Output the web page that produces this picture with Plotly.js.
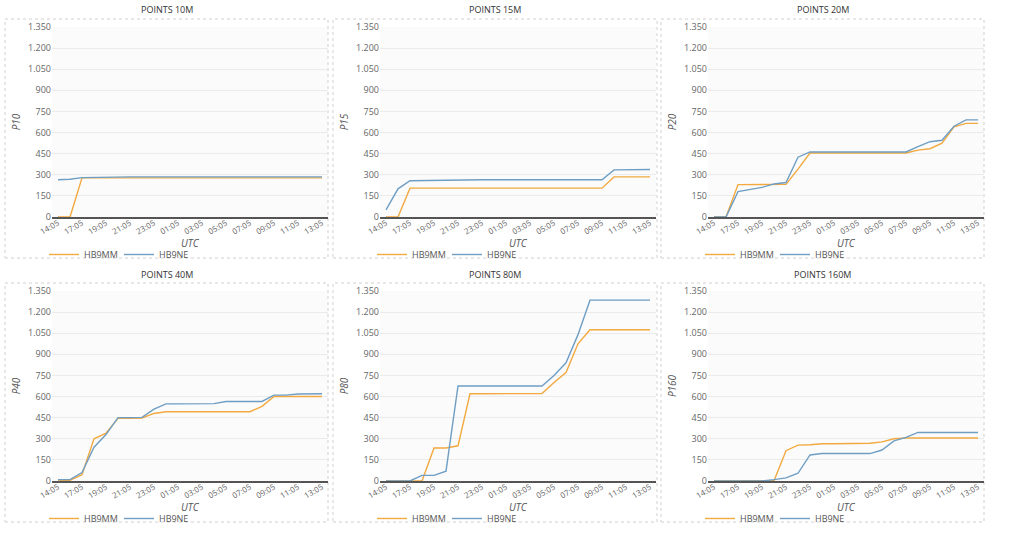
<!DOCTYPE html>
<html>
<head>
<meta charset="utf-8">
<script src="https://cdn.plot.ly/plotly-3.0.1.min.js"></script>
<style>html,body{margin:0;padding:0;background:#fff;}#chart{width:1024px;height:540px;}</style>
</head>
<body>
<div id="chart"></div>
<script>
// ---- data ----
const categories = ['14:05','15:05','17:05','18:05','19:05','20:05','21:05','22:05','23:05','00:05','01:05','02:05','03:05','04:05','05:05','06:05','07:05','08:05','09:05','10:05','11:05','12:05','13:05'];
const tickLabels = ['14:05','17:05','19:05','21:05','23:05','01:05','03:05','05:05','07:05','09:05','11:05','13:05'];
const seriesNames = ['HB9MM','HB9NE'];
const panelTitles = ['POINTS 10M','POINTS 15M','POINTS 20M','POINTS 40M','POINTS 80M','POINTS 160M'];
const yTitles = ['P10','P15','P20','P40','P80','P160'];
const xTitle = 'UTC';
const yTicks = [0,150,300,450,600,750,900,1050,1200,1350];

const mm10 = [0,0,278,278,278,278,278,278,278,278,278,278,278,278,278,278,278,278,278,278,278,278,278];
const ne10 = [265,268,280,282,285,285,285,285,285,285,285,285,285,285,285,285,285,285,285,285,285,285,285];
const mm15 = [0,0,205,205,205,205,205,205,205,205,205,205,205,205,205,205,205,205,205,285,285,285,285];
const ne15 = [50,200,258,260,262,262,263,263,265,265,265,265,265,265,265,265,265,265,265,335,336,338,338];
const mm20 = [0,0,230,230,230,230,232,340,455,455,455,455,455,455,455,455,455,475,485,525,640,665,665];
const ne20 = [0,0,180,195,210,235,245,425,462,462,462,462,462,462,462,462,462,500,535,545,645,690,690];
const mm40 = [0,5,45,300,340,445,445,448,480,492,492,492,492,492,492,492,492,530,600,600,600,600,600];
const ne40 = [10,10,60,240,330,450,450,452,510,548,548,548,548,550,565,565,565,565,610,610,618,620,620];
const mm80 = [0,0,0,0,235,235,250,620,620,620,620,620,620,622,700,770,975,1075,1075,1075,1075,1075,1075];
const ne80 = [0,0,0,40,40,70,675,675,675,675,675,675,675,675,750,840,1040,1285,1285,1285,1285,1285,1285];
const mm160 = [0,0,0,0,0,2,215,255,258,265,265,265,265,268,278,300,305,305,305,305,305,305,305];
const ne160 = [0,0,0,0,0,10,22,55,185,195,195,195,195,195,220,285,310,345,345,345,345,345,345];

const mmSeries = [mm10, mm15, mm20, mm40, mm80, mm160];
const neSeries = [ne10, ne15, ne20, ne40, ne80, ne160];

// ---- styling / layout ----
const colors = ['#f2a940', '#6f9ec4'];
const W = 1024, H = 540;
const colPlot = [[52,328],[380,656],[708,984]];
const colBox = [[5,328],[333,657],[661,984]];
const rowPlot = [[27,217],[291,481]];
const rowBox = [[19,258],[283,522]];
const FONT = 'Open Sans, Liberation Sans, sans-serif';

const traces = [];
const layout = {
  width: W, height: H,
  margin: {l:0, r:0, t:0, b:0},
  paper_bgcolor: '#ffffff',
  plot_bgcolor: '#fbfbfb',
  separators: ',.',
  font: {family: FONT, size: 9, color: '#666'},
  showlegend: true,
  shapes: [], annotations: []
};

for (let p = 0; p < 6; p++) {
  const r = Math.floor(p / 3), c = p % 3;
  const n = p + 1;
  const xk = n === 1 ? 'x' : 'x' + n, yk = n === 1 ? 'y' : 'y' + n;
  const lk = n === 1 ? 'legend' : 'legend' + n;
  [mmSeries[p], neSeries[p]].forEach((vals, s) => {
    traces.push({
      type: 'scatter', mode: 'lines',
      x: categories, y: vals,
      name: seriesNames[s],
      xaxis: xk, yaxis: yk, legend: lk,
      line: {color: colors[s], width: 1.4},
      hoverinfo: 'x+y+name'
    });
  });
  layout['xaxis' + (n === 1 ? '' : n)] = {
    domain: [colPlot[c][0] / W, colPlot[c][1] / W],
    anchor: yk,
    type: 'category',
    categoryorder: 'array', categoryarray: categories,
    range: [-0.5, categories.length - 0.5],
    tickmode: 'array', tickvals: tickLabels, ticktext: tickLabels,
    tickangle: -30,
    tickfont: {size: 8, color: '#666'},
    ticklabelstandoff: -3,
    showgrid: false, zeroline: false,
    showline: true, linecolor: '#555', linewidth: 1.5,
    ticks: '',
    fixedrange: true
  };
  layout['yaxis' + (n === 1 ? '' : n)] = {
    domain: [1 - rowPlot[r][1] / H, 1 - rowPlot[r][0] / H],
    anchor: xk,
    range: [0, 1350],
    tickmode: 'array', tickvals: yTicks,
    separatethousands: true,
    tickfont: {size: 9, color: '#666'},
    showgrid: true, gridcolor: '#ebebeb', gridwidth: 1,
    zeroline: false, showline: false, ticks: '',
    title: {text: yTitles[p], font: {size: 10, color: '#555', style: 'italic'}, standoff: 5},
    fixedrange: true
  };
  layout[lk] = {
    orientation: 'h',
    x: (colPlot[c][0] - 8) / W, xanchor: 'left',
    y: 1 - (rowBox[r][1] - 18) / H, yanchor: 'top',
    bgcolor: 'rgba(0,0,0,0)',
    font: {size: 9, color: '#555'},
    itemwidth: 30,
    entrywidth: 30,
    tracegroupgap: 0
  };
  layout.shapes.push({
    type: 'rect', xref: 'paper', yref: 'paper',
    x0: colBox[c][0] / W, x1: colBox[c][1] / W,
    y0: 1 - rowBox[r][1] / H, y1: 1 - rowBox[r][0] / H,
    line: {color: '#d0d0d0', width: 1, dash: 'dot'},
    fillcolor: 'rgba(0,0,0,0)', layer: 'below'
  });
  layout.annotations.push({
    xref: 'paper', yref: 'paper',
    x: (colBox[c][0] + colBox[c][1]) / 2 / W,
    y: 1 - (rowBox[r][0] - 9) / H,
    text: panelTitles[p], showarrow: false,
    font: {size: 9, color: '#333'},
    xanchor: 'center', yanchor: 'middle'
  });
  layout.annotations.push({
    xref: 'paper', yref: 'paper',
    x: (colPlot[c][0] + colPlot[c][1]) / 2 / W,
    y: 1 - (rowPlot[r][1] + 26) / H,
    text: xTitle, showarrow: false,
    font: {size: 10, color: '#555', style: 'italic'},
    xanchor: 'center', yanchor: 'middle'
  });
}

Plotly.newPlot('chart', traces, layout, {displayModeBar: false, staticPlot: true});
</script>
</body>
</html>
